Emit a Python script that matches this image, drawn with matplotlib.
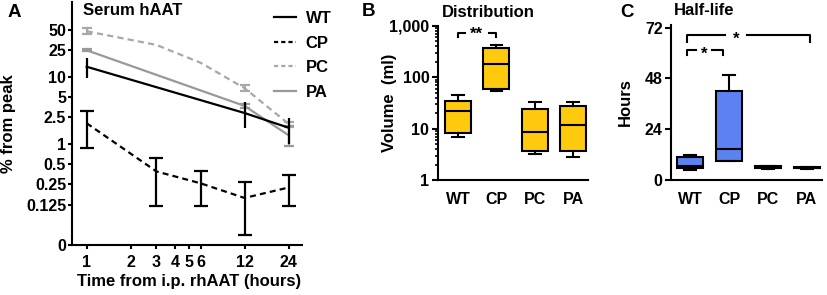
import matplotlib
matplotlib.use('Agg')
import matplotlib.pyplot as plt
from matplotlib.lines import Line2D
from matplotlib.ticker import FixedLocator, NullLocator, LogLocator, NullFormatter
import numpy as np

plt.rcParams['font.family'] = ['Liberation Sans', 'DejaVu Sans']
plt.rcParams['font.weight'] = 'bold'
plt.rcParams['lines.scale_dashes'] = False

# ---------------- Panel A data (Serum hAAT, % from peak) ----------------
times_wt = [1, 12, 24]
wt_mean = [14.2, 2.9, 1.75]
wt_lo = [9.5, 1.75, 1.0]
wt_hi = [19.0, 4.2, 2.45]

times_cp = [1, 3, 6, 12, 24]
cp_mean = [2.04, 0.39, 0.26, 0.157, 0.225]
cp_lo = [0.87, 0.118, 0.118, 0.0435, 0.12]
cp_hi = [3.1, 0.62, 0.39, 0.27, 0.34]

times_pc = [1, 3, 6, 12, 24]
pc_mean = [48.0, 30.0, 16.3, 6.8, 2.0]
pc_lo = [43.6, 30.0, 16.3, 6.2, 1.8]
pc_hi = [53.0, 30.0, 16.3, 7.6, 2.15]

times_pa = [1, 12, 24]
pa_mean = [25.0, 3.7, 1.35]
pa_lo = [24.0, 3.4, 0.95]
pa_hi = [26.0, 4.0, 1.85]

a_xticks = [1, 2, 3, 4, 5, 6, 12, 24]
a_yticks = [0.03125, 0.125, 0.25, 0.5, 1, 2.5, 5, 10, 25, 50]
a_yticklabels = ['0', '0.125', '0.25', '0.5', '1', '2.5', '5', '10', '25', '50']

# ---------------- Panel B data (Distribution volume, ml) ----------------
groups = ['WT', 'CP', 'PC', 'PA']
vol_whislo = [6.9, 55.0, 3.17, 2.78]
vol_q1 = [8.4, 59.6, 3.6, 3.68]
vol_med = [22.3, 184.0, 8.6, 11.6]
vol_q3 = [35.3, 377.0, 24.7, 27.5]
vol_whishi = [45.6, 417.0, 32.8, 32.8]
b_yticks = [1, 10, 100, 1000]
b_yticklabels = ['1', '10', '100', '1,000']

# ---------------- Panel C data (Half-life, hours) ----------------
hl_whislo = [4.9, 8.8, 5.4, 5.4]
hl_q1 = [5.8, 9.1, 5.6, 5.6]
hl_med = [6.5, 14.5, 6.0, 5.8]
hl_q3 = [10.9, 41.9, 6.4, 6.0]
hl_whishi = [11.7, 49.6, 6.7, 6.2]
c_yticks = [0, 24, 48, 72]

W, H = 828, 295
fig = plt.figure(figsize=(W / 100, H / 100), dpi=100)


def px_axes(l, r, t, b):
    return fig.add_axes([l / W, 1 - b / H, (r - l) / W, (b - t) / H])


def style(ax):
    for s in ['top', 'right']:
        ax.spines[s].set_visible(False)
    for s in ['left', 'bottom']:
        ax.spines[s].set_linewidth(1.5)
    ax.tick_params(width=1.5, length=3, labelsize=11.5)
    ax.tick_params(which='minor', width=1.2, length=2)


# ---------------- Panel A ----------------
axA = px_axes(71.7, 301.7, 2, 245)
style(axA)
axA.set_xscale('log')
axA.set_yscale('log')
axA.set_xlim(0.79, 29.5)
axA.set_ylim(0.03125, 131)

grey_pc = '#a8a8a8'
grey_pa = '#999999'


def series(ax, t, m, lo, hi, color, ls, cap, dashes=None, z=2):
    t = np.array(t); m = np.array(m); lo = np.array(lo); hi = np.array(hi)
    line, = ax.plot(t, m, color=color, lw=1.6, ls=ls, zorder=z)
    if dashes is not None:
        line.set_dashes(dashes)
    mask = hi > lo
    ax.errorbar(t[mask], m[mask], yerr=[m[mask] - lo[mask], hi[mask] - m[mask]],
                fmt='none', ecolor=color, elinewidth=1.6, capsize=cap, capthick=1.6, zorder=z)
    return line


series(axA, times_pc, pc_mean, pc_lo, pc_hi, grey_pc, '--', 3.5, dashes=(4.5, 3), z=1)
series(axA, times_pa, pa_mean, pa_lo, pa_hi, grey_pa, '-', 3.5, z=1)
series(axA, times_wt, wt_mean, wt_lo, wt_hi, 'black', '-', 0, z=3)
series(axA, times_cp, cp_mean, cp_lo, cp_hi, 'black', '--', 5, dashes=(4.3, 3), z=3)

axA.xaxis.set_major_locator(FixedLocator(a_xticks))
axA.xaxis.set_minor_locator(NullLocator())
axA.set_xticklabels([str(v) for v in a_xticks])
axA.yaxis.set_major_locator(FixedLocator(a_yticks))
axA.yaxis.set_minor_locator(NullLocator())
axA.set_yticklabels(a_yticklabels)
axA.tick_params(axis='y', pad=1)
axA.tick_params(axis='x', pad=4.5)
axA.set_ylabel('% from peak', fontsize=12, fontweight='bold', va='center')
axA.yaxis.set_label_coords((9 - 71.7) / 230, 0.5)
axA.set_xlabel('Time from i.p. rhAAT (hours)', fontsize=12, fontweight='bold', va='center')
axA.xaxis.set_label_coords((188.8 - 71.7) / 230, -(281.5 - 245) / 243)

leg_handles = [Line2D([], [], color='black', lw=1.6),
               Line2D([], [], color='black', lw=1.6, ls=(0, (3, 2.2))),
               Line2D([], [], color=grey_pc, lw=1.6, ls=(0, (3, 2.2))),
               Line2D([], [], color=grey_pa, lw=1.6)]
axA.legend(leg_handles, ['WT', 'CP', 'PC', 'PA'], loc='upper left',
           bbox_to_anchor=(274 / W, 1 - 11 / H), bbox_transform=fig.transFigure,
           frameon=False, borderpad=0, borderaxespad=0, handlelength=1.3,
           handletextpad=0.6, labelspacing=0.58, prop={'size': 12, 'weight': 'bold'})

# ---------------- Panel B ----------------
axB = px_axes(438.3, 587.7, 26, 180)
style(axB)
axB.set_yscale('log')
axB.set_ylim(1, 1000)
axB.set_xlim(-0.514, 3.38)
stats_b = [dict(med=vol_med[i], q1=vol_q1[i], q3=vol_q3[i], whislo=vol_whislo[i],
                whishi=vol_whishi[i], label=groups[i]) for i in range(4)]
axB.bxp(stats_b, positions=range(4), widths=0.68, patch_artist=True, showfliers=False,
        capwidths=0.3,
        boxprops=dict(facecolor='#ffc90e', edgecolor='black', linewidth=1.5),
        medianprops=dict(color='black', linewidth=1.5),
        whiskerprops=dict(color='black', linewidth=1.5),
        capprops=dict(color='black', linewidth=1.5))
axB.yaxis.set_major_locator(FixedLocator(b_yticks))
axB.set_yticklabels(b_yticklabels)
axB.yaxis.set_minor_locator(LogLocator(base=10, subs=np.arange(2, 10)))
axB.yaxis.set_minor_formatter(NullFormatter())
axB.tick_params(axis='y', which='major', length=4.5, pad=2)
axB.tick_params(axis='x', length=0, pad=9)
axB.set_xticks(range(4))
axB.set_xticklabels(groups)
axB.set_ylabel('Volume  (ml)', fontsize=12, fontweight='bold', va='center')
axB.yaxis.set_label_coords((390 - 438.3) / 149.4, 0.5)

# significance bracket B (layout, not data)
yb, yb2 = 721, 619
axB.plot([0, 0, 0.18], [yb2, yb, yb], color='black', lw=1.5, clip_on=False)
axB.plot([0.8, 1, 1], [yb, yb, yb2], color='black', lw=1.5, clip_on=False)
axB.text(0.49, 560, '**', ha='center', va='baseline', fontsize=12, fontweight='bold')

# ---------------- Panel C ----------------
axC = px_axes(671, 821.7, 25, 180)
style(axC)
axC.set_ylim(0, 73.3)
axC.set_xlim(-0.49, 3.38)
stats_c = [dict(med=hl_med[i], q1=hl_q1[i], q3=hl_q3[i], whislo=hl_whislo[i],
                whishi=hl_whishi[i], label=groups[i]) for i in range(4)]
axC.bxp(stats_c, positions=range(4), widths=0.67, patch_artist=True, showfliers=False,
        capwidths=0.3,
        boxprops=dict(facecolor='#5b82f0', edgecolor='black', linewidth=1.5),
        medianprops=dict(color='black', linewidth=1.5),
        whiskerprops=dict(color='black', linewidth=1.5),
        capprops=dict(color='black', linewidth=1.5))
axC.set_yticks(c_yticks)
axC.tick_params(axis='y', length=4.5, pad=1.5)
axC.tick_params(axis='x', length=0, pad=9)
axC.set_xticks(range(4))
axC.set_xticklabels(groups)
axC.set_ylabel('Hours', fontsize=12, fontweight='bold', va='center')
axC.yaxis.set_label_coords((625 - 671) / 150.7, 0.5)

# brackets C
y1, y1b = 68.5, 65.3
axC.plot([-0.07, -0.07, 0.9], [y1b, y1, y1], color='black', lw=1.5, clip_on=False)
axC.plot([1.45, 3.09, 3.09], [y1, y1, y1b], color='black', lw=1.5, clip_on=False)
axC.text(1.18, 64.5, '*', ha='center', va='baseline', fontsize=12, fontweight='bold')
y2, y2b = 61.4, 59.1
axC.plot([-0.07, -0.07, 0.15], [y2b, y2, y2], color='black', lw=1.5, clip_on=False)
axC.plot([0.57, 0.85, 0.85], [y2, y2, y2b], color='black', lw=1.5, clip_on=False)
axC.text(0.36, 57.5, '*', ha='center', va='baseline', fontsize=12, fontweight='bold')

# panel letters and titles
def ftext(x, y, s, size):
    fig.text(x / W, 1 - y / H, s, ha='left', va='baseline', fontsize=size, fontweight='bold')

ftext(8, 16.7, 'A', 13.5)
ftext(83, 15, 'Serum hAAT', 12)
ftext(362, 16.5, 'B', 13.5)
ftext(441.7, 16.7, 'Distribution', 12)
ftext(620.7, 16.7, 'C', 13.5)
ftext(674, 15, 'Half-life', 12)

fig.savefig('out.png', dpi=100)
